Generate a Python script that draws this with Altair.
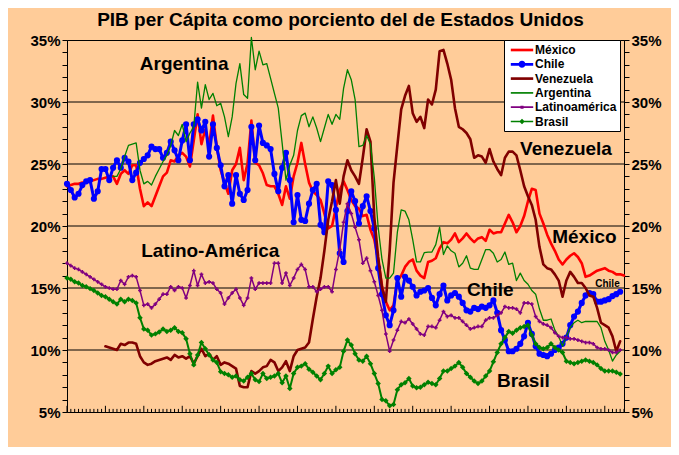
import altair as alt
import pandas as pd

FONT = "Liberation Sans"

# ---------------- data ----------------
names = ["México", "Chile", "Venezuela", "Argentina", "Latinoamérica", "Brasil"]
colors = ["#FF0000", "#0000FF", "#800000", "#008000", "#800080", "#008000"]

mexico_start = 1860
mexico = [
    23.2, 23.3, 23.4, 23.4, 23.5, 23.5, 23.6, 23.7, 23.8, 23.8,
    23.9, 24.0, 24.0, 23.4, 24.2, 24.5, 24.2, 24.9, 24.9, 23.0,
    21.6, 21.9, 21.6, 22.4, 23.2, 24.0, 24.3, 25.3, 25.2, 25.7,
    25.9, 25.6, 24.8, 26.9, 29.0, 26.6, 27.8, 26.5, 28.9, 26.4,
    24.5, 23.5, 22.6, 24.5, 25.0, 26.3, 23.7, 25.05, 28.5, 25.1,
    24.9, 24.25, 23.3, 23.2, 23.2, 22.6, 21.7, 23.2, 22.2, 24.0,
    25.1, 26.7, 25.0, 23.5, 22.8, 22.5, 22.1, 21.0, 19.8, 20.0,
    21.5, 22.9, 23.6, 22.9, 22.1, 21.6, 21.4, 20.8, 20.9, 19.7,
    18.9, 17.3, 15.2, 13.9, 13.2, 13.6, 15.6, 16.0, 16.7, 17.1,
    17.3, 16.4, 16.0, 15.8, 17.1, 17.2, 17.4, 18.2, 18.7, 18.6,
    18.9, 19.4, 18.7, 19.0, 19.4, 19.0, 18.7, 19.0, 19.1, 18.8,
    19.7, 19.4, 19.5, 19.5, 20.2, 20.9, 20.3, 19.5, 20.0, 20.8,
    22.0, 23.0, 22.9, 21.0, 20.2, 19.3, 18.6, 18.0, 17.3, 16.9,
    17.3, 17.6, 17.8, 17.5, 17.0, 15.9, 16.0, 16.2, 16.4, 16.5,
    16.6, 16.4, 16.3, 16.1, 16.1, 16.0,
]

chile_start = 1860
chile = [
    23.4, 22.9, 22.3, 22.6, 23.3, 23.6, 23.7, 22.2, 22.8, 24.6,
    24.6, 23.7, 24.7, 25.3, 24.7, 25.5, 25.2, 23.7, 24.3, 25.1,
    25.4, 25.7, 26.4, 26.2, 26.2, 25.5, 25.9, 26.8, 26.1, 25.3,
    26.9, 28.2, 25.3, 28.2, 28.6, 27.7, 28.4, 25.6, 28.2, 26.3,
    24.9, 23.2, 24.1, 21.8, 24.1, 22.6, 22.1, 22.9, 28.0, 25.3,
    28.1, 26.7, 26.5, 26.2, 24.2, 22.8, 24.7, 25.9, 23.7, 20.3,
    22.5, 20.5, 20.4, 21.8, 22.9, 23.4, 20.1, 19.5, 23.6, 23.3,
    21.3, 17.8, 17.1, 21.2, 22.8, 22.0, 20.2, 21.6, 22.4, 21.2,
    19.8, 16.6, 14.5, 12.8, 12.0, 13.2, 15.8, 14.3, 15.9, 15.6,
    15.1, 14.4, 14.7, 14.8, 15.0, 14.2, 13.6, 14.5, 15.2, 14.0,
    14.4, 14.6, 14.3, 13.8, 13.2, 13.1, 13.4, 13.3, 13.5, 13.4,
    13.6, 14.0, 13.0, 11.6, 10.8, 9.9, 9.9, 10.1, 10.5, 11.1,
    12.2, 11.3, 10.3, 9.7, 9.6, 9.5, 9.7, 10.0, 10.2, 10.5,
    11.0, 12.0, 12.7, 13.1, 13.8, 14.4, 14.6, 14.5, 13.9, 13.9,
    14.0, 14.1, 14.35, 14.5, 14.7,
]

venezuela_start = 1870
venezuela = [
    10.3, 10.2, 10.1, 10.0, 10.5, 10.4, 10.6, 10.6, 10.5, 9.5,
    9.0, 8.8, 8.9, 9.1, 9.2, 9.3, 9.4, 9.2, 9.6, 9.4,
    9.5, 9.3, 9.5, 8.9, 9.5, 10.1, 9.5, 9.7, 9.2, 9.5,
    8.8, 9.0, 8.9, 8.7, 8.5, 7.1, 7.0, 7.0, 8.3, 8.1,
    8.3, 8.6, 8.7, 9.2, 9.0, 8.3, 8.6, 9.1, 8.3, 9.5,
    10.0, 10.1, 10.2, 10.6, 12.5, 14.3, 15.8, 18.0, 20.5, 22.0,
    23.7, 21.8, 24.0, 25.3, 24.5, 24.0, 23.4, 25.5, 27.8, 26.8,
    20.7, 17.5, 15.0, 13.9, 18.0, 23.5, 26.5, 29.4, 30.5, 31.3,
    29.1, 28.4, 28.8, 27.9, 30.2, 29.8, 31.0, 34.1, 34.2, 33.1,
    31.8, 29.5, 28.0, 27.8, 27.5, 27.0, 25.5, 25.7, 25.6, 25.1,
    26.2, 25.2, 24.6, 24.1, 25.5, 26.0, 26.0, 25.7, 24.5, 23.2,
    22.4, 21.7, 20.5, 18.3, 16.9, 16.6, 16.5, 16.1, 15.6, 14.3,
    15.6, 16.3, 15.9, 15.4, 15.4, 15.0, 14.4, 14.3, 13.4, 12.2,
    12.0, 11.8, 11.1, 9.9, 10.7,
]

argentina_start = 1872
argentina = [
    24.0, 24.0, 24.6, 25.6, 26.5, 26.6, 26.7, 24.5,
    23.4, 23.6, 23.3, 24.0, 24.6, 25.2, 25.7, 26.5, 27.7, 27.3,
    28.2, 26.8, 27.5, 28.0, 31.6, 29.5, 31.4, 30.2, 30.7, 29.7,
    29.9, 28.8, 27.2, 28.8, 31.5, 33.1, 30.6, 30.3, 35.2, 32.6,
    34.1, 33.0, 33.1, 31.9, 30.7, 29.5, 26.7, 23.7, 24.9, 25.7,
    27.7, 28.9, 29.1, 28.0, 28.8, 27.9, 26.8, 27.9, 29.0, 28.2,
    29.0, 28.6, 31.1, 32.6, 31.8, 30.2, 26.4, 26.5, 27.3, 26.6,
    23.9, 19.9, 17.3, 15.8, 15.8, 16.2, 19.5, 21.3, 21.2, 20.5,
    18.9, 17.1, 17.1, 17.85, 17.9, 17.9, 18.5, 19.9, 17.7, 18.4,
    18.0, 17.8, 16.7, 17.0, 17.6, 16.6, 16.5, 16.5, 17.3, 18.1,
    18.1, 17.8, 17.1, 17.3, 17.9, 16.9, 17.0, 15.6, 16.2, 15.6,
    15.3, 14.8, 14.5, 13.3, 12.4, 12.4, 12.5, 11.6, 11.1, 10.3,
    11.1, 11.8, 12.2, 12.4, 12.2, 12.3, 12.3, 12.3, 12.3, 11.8,
    10.7, 10.0, 9.1, 9.6, 9.9,
]

latino_start = 1860
latino = [
    17.0, 16.8, 16.6, 16.5, 16.3, 16.1, 15.9, 15.7, 15.5, 15.3,
    15.1, 15.0, 14.9, 14.9, 15.6, 15.3, 15.9, 16.0, 15.9, 14.8,
    13.6, 13.7, 13.4, 13.7, 14.1, 14.5, 14.5, 15.1, 14.8, 15.1,
    15.0, 14.2, 15.2, 16.4, 15.2, 16.1, 15.4, 15.5, 15.4, 14.9,
    14.6, 13.7, 14.2, 14.6, 14.9, 14.2, 13.6, 14.2, 15.8, 14.9,
    15.4, 15.4, 15.4, 15.4, 17.0, 17.0, 15.4, 16.2, 15.2, 15.8,
    16.5, 16.9, 16.5, 15.1, 15.1, 14.7, 14.9, 15.1, 15.1, 14.7,
    16.5, 18.1, 20.3, 21.8, 21.0, 19.9, 18.9, 17.0, 17.4, 16.4,
    15.5, 14.4, 13.2, 11.3, 9.9, 10.8, 11.6, 12.3, 12.2, 12.5,
    12.1, 11.7, 11.3, 11.2, 11.9, 11.9, 11.8, 12.4, 13.1, 12.7,
    12.8, 12.6, 12.6, 12.3, 12.0, 11.7, 11.8, 11.9, 11.9, 12.4,
    12.6, 12.6, 12.8, 13.0, 13.5, 13.4, 13.4, 13.3, 13.0, 13.8,
    13.8, 13.7, 12.7, 12.3, 12.1, 12.0, 11.8, 11.4, 11.1, 11.0,
    11.0, 10.9, 10.9, 10.8, 10.7, 10.6, 10.6, 10.5, 10.2, 10.1,
    10.1, 10.0, 9.8, 9.8, 10.0,
]

brasil_start = 1860
brasil = [
    15.8, 15.7, 15.5, 15.4, 15.2, 15.1, 14.95, 14.8, 14.6, 14.4,
    14.3, 14.1, 13.9, 13.7, 14.1, 13.9, 14.1, 14.0, 13.8, 12.6,
    11.7, 11.6, 11.2, 11.3, 11.45, 11.7, 11.5, 11.6, 11.8, 11.5,
    11.4, 10.9, 9.7, 8.8, 9.6, 10.6, 10.1, 9.6, 9.2, 9.0,
    8.25, 8.1, 8.0, 7.8, 7.9, 7.6, 7.5, 7.8, 8.1, 7.6,
    7.45, 8.1, 7.7, 7.8, 7.9, 8.1, 7.35, 7.9, 6.9, 8.1,
    8.6, 8.7, 8.9, 8.45, 8.2, 7.9, 7.6, 8.1, 8.7, 8.1,
    8.4, 8.6, 9.9, 10.8, 10.4, 9.7, 9.2, 9.1, 9.5, 8.9,
    8.1, 7.3, 6.0, 5.9, 5.5, 5.6, 6.8, 7.2, 7.35, 7.7,
    7.1, 6.96, 7.0, 7.2, 7.4, 7.3, 7.2, 7.7, 8.3, 8.3,
    8.5, 8.7, 9.0, 8.6, 8.1, 7.8, 7.5, 7.3, 7.5, 7.9,
    8.3, 9.05, 9.8, 10.5, 11.0, 11.5, 11.35, 11.6, 11.8, 11.9,
    12.0, 11.2, 10.5, 10.2, 10.1, 10.2, 10.5, 10.2, 10.0, 9.8,
    9.1, 9.0, 8.9, 9.0, 9.1, 9.2, 9.1, 9.0, 8.8, 8.5,
    8.3, 8.3, 8.3, 8.2, 8.06,
]

x_labels = list(range(1860, 2001, 10))
y_ticks = list(range(5, 36))
grid_values = [10, 15, 20, 25, 30]

ann_text = ["Argentina", "Latino-América", "Venezuela", "México", "Chile", "Brasil", "Chile"]
ann_year = [1890.5, 1897.3, 1989.9, 1994.7, 1970.2, 1978.8, 2000.7]
ann_value = [33.1, 18.0, 26.25, 19.1, 14.85, 7.54, 15.36]
ann_size = [19, 19, 19, 19, 19, 19, 10]

# ---------------- build tables ----------------
series_src = {
    "México": (mexico_start, mexico),
    "Chile": (chile_start, chile),
    "Venezuela": (venezuela_start, venezuela),
    "Argentina": (argentina_start, argentina),
    "Latinoamérica": (latino_start, latino),
    "Brasil": (brasil_start, brasil),
}
rows = []
for nm, (start, vals) in series_src.items():
    for i, v in enumerate(vals):
        rows.append({"series": nm, "year": start + i, "value": v})
df = pd.DataFrame(rows)

tick_years = list(range(1860, 2006))
df_ticks = pd.DataFrame({
    "year": tick_years,
    "y0": [5.0] * len(tick_years),
    "y1": [5.5 if yr % 10 == 0 else 5.25 for yr in tick_years],
})
df_grid = pd.DataFrame({"v": grid_values})
df_ann = pd.DataFrame({"text": ann_text, "year": ann_year, "value": ann_value, "fs": ann_size})
df_leg = pd.DataFrame({"series": names})

xscale = alt.Scale(domain=[1860, 2005], nice=False, zero=False)
yscale = alt.Scale(domain=[5, 35], nice=False, zero=False)

label_expr = "datum.value % 5 == 0 ? datum.value + '%' : ''"


def yaxis(orient):
    return alt.Axis(orient=orient, values=y_ticks, labelExpr=label_expr, tickSize=5,
                    tickColor="black", domainColor="black", domainWidth=1,
                    labelFont=FONT, labelFontSize=15, labelFontWeight="bold",
                    labelColor="black", labelPadding=2, grid=False, title=None,
                    labelOverlap=False, labelFlush=False)


xaxis = alt.Axis(orient="bottom", values=x_labels, format="d", tickSize=0,
                 labelPadding=18, labelFont=FONT, labelFontSize=13,
                 labelFontWeight="bold", labelColor="black", domainColor="black",
                 grid=False, title=None, labelFlush=False, labelOverlap=False)

grid = alt.Chart(df_grid).mark_rule(color="black", strokeWidth=1).encode(
    y=alt.Y("v:Q", scale=yscale, axis=yaxis("left")))

ticks = alt.Chart(df_ticks).mark_rule(color="black", strokeWidth=1).encode(
    x=alt.X("year:Q", scale=xscale, axis=xaxis),
    y=alt.Y("y0:Q", scale=yscale, axis=yaxis("right")),
    y2="y1:Q")

styles = {
    "México": (2.6, None),
    "Chile": (3.0, "circle"),
    "Venezuela": (2.6, None),
    "Argentina": (1.3, None),
    "Latinoamérica": (1.5, "cross"),
    "Brasil": (2.0, "diamond"),
}

layers = [grid, ticks]
for nm, col in zip(names, colors):
    width, marker = styles[nm]
    base = alt.Chart(df).transform_filter(alt.datum.series == nm)
    enc = dict(x=alt.X("year:Q", scale=xscale, axis=None),
               y=alt.Y("value:Q", scale=yscale, axis=None))
    layers.append(base.mark_line(color=col, strokeWidth=width, strokeJoin="round",
                                 strokeCap="round").encode(**enc))
    if marker == "circle":
        layers.append(base.mark_circle(color=col, size=38, opacity=1).encode(**enc))
    elif marker == "cross":
        layers.append(base.mark_point(shape="cross", filled=True, color=col, size=14,
                                      opacity=1).encode(**enc))
    elif marker == "diamond":
        layers.append(base.mark_point(shape="diamond", filled=True, color=col, size=30,
                                      opacity=1).encode(**enc))

ann = alt.Chart(df_ann).mark_text(font=FONT, fontWeight="bold", color="black",
                                  align="center", baseline="middle").encode(
    x=alt.X("year:Q", scale=xscale, axis=None),
    y=alt.Y("value:Q", scale=yscale, axis=None),
    text="text:N",
    size=alt.Size("fs:Q", scale=None, legend=None))
layers.append(ann)

# legend symbols: line (thin filled rect) plus marker, in unit coordinates
# (unit = 7 px with symbolSize 196; the line part reaches beyond the unit box)
thick = "M-1.6,-0.19L1.6,-0.19L1.6,0.19L-1.6,0.19Z"
thin = "M-1.6,-0.12L1.6,-0.12L1.6,0.12L-1.6,0.12Z"
sym_paths = [
    thick,
    thick + " M-0.5,0A0.5,0.5 0 1,1 0.5,0A0.5,0.5 0 1,1 -0.5,0Z",
    thick,
    thin,
    thin + " M-0.22,-0.22L0.22,-0.22L0.22,0.22L-0.22,0.22Z",
    thin + " M0,-0.4L0.4,0L0,0.4L-0.4,0Z",
]

leg = alt.Legend(title=None, orient="none", legendX=437, legendY=0,
                 fillColor="white", strokeColor="black", padding=3,
                 symbolOffset=8, labelFont=FONT, labelFontSize=12,
                 labelFontWeight="bold", labelColor="black", symbolSize=196,
                 symbolStrokeWidth=0, symbolOpacity=1, rowPadding=1.3,
                 labelOffset=6, labelLimit=300)

legend_layer = alt.Chart(df_leg).mark_point(filled=True, opacity=0).encode(
    color=alt.Color("series:N", scale=alt.Scale(domain=names, range=colors), legend=leg),
    shape=alt.Shape("series:N", scale=alt.Scale(domain=names, range=sym_paths), legend=leg))
layers.append(legend_layer)

chart = alt.layer(*layers).resolve_axis(y="independent").properties(
    width=557, height=372,
    background="#FFCC99",
    padding={"left": 59, "top": 32, "right": 47, "bottom": 35},
    autosize=alt.AutoSizeParams(type="none"),
    title=alt.TitleParams("PIB per Cápita como porciento del de Estados Unidos",
                          font=FONT, fontSize=19, fontWeight="bold", color="black",
                          anchor="middle", offset=3, dx=-5),
).configure_view(stroke="black", strokeWidth=1, fill="white")

chart.save("out.html", embed_options={"renderer": "svg", "actions": False})
